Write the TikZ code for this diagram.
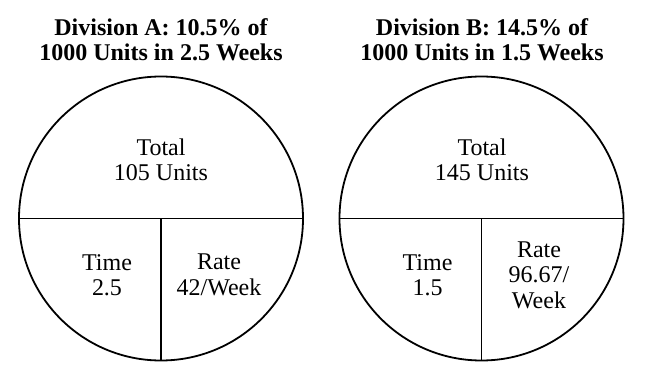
\documentclass[tikz,border=0pt]{standalone}
\usepackage{fontspec}
\setmainfont{Liberation Serif}
\begin{document}
\begin{tikzpicture}[x=1pt,y=-1pt,
  ring/.style={draw,line width=1.8pt},
  divider/.style={line width=1.8pt},
  title/.style={font=\bfseries\fontsize{24}{25}\selectfont,align=center,inner sep=0pt},
  label/.style={font=\fontsize{24}{25.5}\selectfont,align=center,inner sep=0pt}]
\useasboundingbox (0,0) rectangle (649,388);
% Division A
\node[title] (tA) at (161,40) {Division A: 10.5\% of\\1000 Units in 2.5 Weeks};
\node[ring,circle,minimum size=284pt,inner sep=0pt] (cA) at (161,218.5) {};
\coordinate (cAc) at (161,218.5);
\draw[divider] (cA.west) -- (cA.east);
\draw[divider] (cAc) -- (cA.south);
\node[label] (totA) at (161,160) {Total\\105 Units};
\node[label] (timeA) at (107,275) {Time\\2.5};
\node[label] (rateA) at (219,275) {Rate\\42/Week};
% Division B
\node[title] (tB) at (482,40) {Division B: 14.5\% of\\1000 Units in 1.5 Weeks};
\node[ring,circle,minimum size=284pt,inner sep=0pt] (cB) at (481.5,218.5) {};
\coordinate (cBc) at (481.5,218.5);
\draw[divider] (cB.west) -- (cB.east);
\draw[divider] (cBc) -- (cB.south);
\node[label] (totB) at (482,160) {Total\\145 Units};
\node[label] (timeB) at (427.5,275) {Time\\1.5};
\node[label] (rateB) at (539,275) {Rate\\96.67/\\Week};
\end{tikzpicture}
\end{document}
